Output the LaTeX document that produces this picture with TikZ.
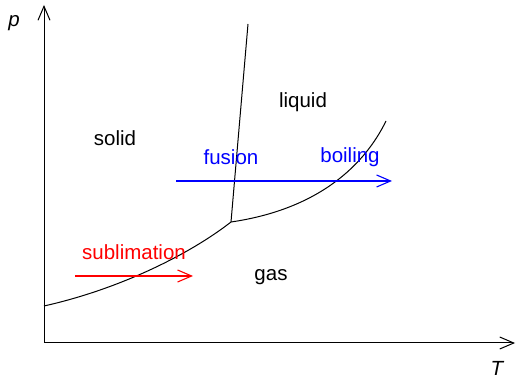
\documentclass[tikz,border=0pt]{standalone}
\usepackage{fontspec}
\setmainfont{Liberation Sans}
\usetikzlibrary{arrows.meta,positioning}

\begin{document}
\begin{tikzpicture}[
  x=1pt, y=1pt,
  axis/.style={-{Straight Barb[length=14pt,width=12pt]}, line width=1pt},
  curve/.style={line width=1pt},
  proc/.style={-{Straight Barb[length=14pt,width=12pt]}, line width=1.1pt},
  phase/.style={font=\fontsize{20.5}{24}\selectfont},
  font=\fontsize{20.5}{24}\selectfont
]
\useasboundingbox (0,0) rectangle (516,379);

% Axes
\coordinate (O)  at (44,36);
\coordinate (py) at (44,374);
\coordinate (px) at (515,36);
\draw[axis] (O) -- (py);
\draw[axis] (O) -- (px);
\node (plab) at (14,356) {\itshape p};
\node (Tlab) at (497,11) {\itshape T};

% Phase boundaries
\coordinate (tp)   at (231,157);
\coordinate (sub0) at (44,73);
\coordinate (fus1) at (248,355);
\coordinate (boil1) at (386,258);
\draw[curve] (sub0) .. controls (120,90) and (190,125) .. (tp);
\draw[curve] (tp) -- (fus1);
\draw[curve] (tp) .. controls (320,170) and (365,215) .. (boil1);

% Phase names
\node[phase] (solid)  at (115,241) {solid};
\node[phase] (liquid) at (303,277) {liquid};
\node[phase] (gas)    at (271,102) {gas};

% Processes
\coordinate (b0) at (176,198);
\coordinate (b1) at (392,198);
\draw[proc, draw=blue] (b0) -- (b1);
\node[phase, text=blue] (fusion)  at (231,222) {fusion};
\node[phase, text=blue] (boiling) at (350,222) {boiling};

\coordinate (r0) at (75,103);
\coordinate (r1) at (193,103);
\draw[proc, draw=red] (r0) -- (r1);
\node[phase, text=red] (sublim) at (134,127) {sublimation};

\end{tikzpicture}
\end{document}
